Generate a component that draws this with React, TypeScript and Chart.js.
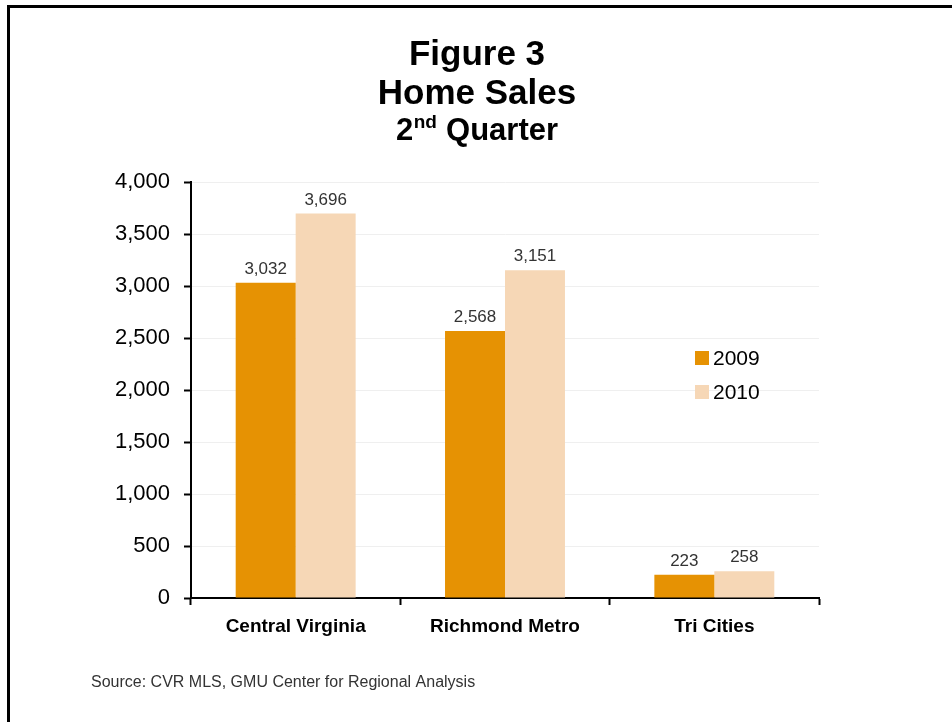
import React, { useEffect, useRef } from "react";
import { Chart, registerables } from "chart.js";

Chart.register(...registerables);

const categories = ["Central Virginia", "Richmond Metro", "Tri Cities"];
const seriesLabels = ["2009", "2010"];
const values2009 = [3032, 2568, 223];
const values2010 = [3696, 3151, 258];
const seriesColors = ["#E69203", "#F6D7B6"];
const yTickMax = 4000;
const yTickStep = 500;
const titleLines = ["Figure 3", "Home Sales"];
const subtitleParts = ["2", "nd", " Quarter"];
const sourceText = "Source: CVR MLS, GMU Center for Regional Analysis";

const FONT = "'Liberation Sans', Arial, Helvetica, sans-serif";

const fmt = (v: number) => v.toLocaleString("en-US");

const decorPlugin = {
  id: "decor",
  afterDatasetsDraw(chart: any) {
    const ctx = chart.ctx as CanvasRenderingContext2D;
    ctx.save();
    // data labels
    ctx.font = `17px ${FONT}`;
    ctx.fillStyle = "#333333";
    ctx.textAlign = "center";
    ctx.textBaseline = "alphabetic";
    chart.data.datasets.forEach((ds: any, di: number) => {
      const meta = chart.getDatasetMeta(di);
      meta.data.forEach((bar: any, i: number) => {
        ctx.fillText(fmt(ds.data[i]), bar.x, bar.y - 9);
      });
    });
    ctx.restore();
  },
  afterDraw(chart: any) {
    const ctx = chart.ctx as CanvasRenderingContext2D;
    ctx.save();
    const cx = 477;
    // title
    ctx.fillStyle = "#000";
    ctx.textAlign = "center";
    ctx.textBaseline = "alphabetic";
    ctx.font = `bold 35px ${FONT}`;
    ctx.fillText(titleLines[0], cx, 65);
    ctx.fillText(titleLines[1], cx, 104);
    // subtitle with superscript
    const bigFont = `bold 31px ${FONT}`;
    const supFont = `bold 19px ${FONT}`;
    ctx.textAlign = "left";
    ctx.font = bigFont;
    const w0 = ctx.measureText(subtitleParts[0]).width;
    const w2 = ctx.measureText(subtitleParts[2]).width;
    ctx.font = supFont;
    const w1 = ctx.measureText(subtitleParts[1]).width + 1;
    let x = cx - (w0 + w1 + w2) / 2;
    ctx.font = bigFont;
    ctx.fillText(subtitleParts[0], x, 140);
    x += w0;
    ctx.font = supFont;
    ctx.fillText(subtitleParts[1], x + 0.5, 128);
    x += w1;
    ctx.font = bigFont;
    ctx.fillText(subtitleParts[2], x, 140);

    // legend
    ctx.font = `21px ${FONT}`;
    ctx.textBaseline = "middle";
    chart.data.datasets.forEach((ds: any, i: number) => {
      const y = 358 + i * 34;
      ctx.fillStyle = ds.backgroundColor;
      ctx.fillRect(695, y - 7, 14, 14);
      ctx.fillStyle = "#000";
      ctx.fillText(ds.label, 713, y + 1);
    });

    // source
    ctx.font = `16px ${FONT}`;
    ctx.fillStyle = "#333";
    ctx.textBaseline = "middle";
    ctx.fillText(sourceText, 91, 683);
    ctx.restore();
  },
};

export default function App() {
  const ref = useRef<HTMLCanvasElement | null>(null);
  useEffect(() => {
    if (!ref.current) return;
    const chart = new Chart(ref.current, {
      type: "bar",
      data: {
        labels: categories,
        datasets: [
          {
            label: seriesLabels[0],
            data: values2009,
            backgroundColor: seriesColors[0],
            categoryPercentage: 0.573,
            barPercentage: 1.0,
          },
          {
            label: seriesLabels[1],
            data: values2010,
            backgroundColor: seriesColors[1],
            categoryPercentage: 0.573,
            barPercentage: 1.0,
          },
        ],
      },
      options: {
        responsive: false,
        animation: false,
        maintainAspectRatio: false,
        layout: { padding: { left: 0, top: 182, right: 133, bottom: 84 } },
        plugins: {
          legend: { display: false },
          title: { display: false },
          tooltip: { enabled: false },
        },
        scales: {
          x: {
            afterFit: (s: any) => {
              s.height = 40;
            },
            grid: {
              drawOnChartArea: false,
              drawTicks: true,
              tickLength: 7,
              tickColor: "#000",
              tickWidth: 2,
            },
            border: { display: true, color: "#000", width: 2 },
            ticks: {
              color: "#000",
              padding: 10,
              font: { family: FONT, size: 19, weight: "bold" },
            },
          },
          y: {
            min: 0,
            max: yTickMax,
            afterFit: (s: any) => {
              s.width = 191;
            },
            grid: {
              color: "#efefef",
              lineWidth: 1,
              drawTicks: true,
              tickLength: 7,
              tickColor: "#000",
              tickWidth: 2,
            },
            border: { display: true, color: "#000", width: 2 },
            ticks: {
              stepSize: yTickStep,
              color: "#000",
              padding: 14,
              font: { family: FONT, size: 22 },
              callback: (v: any) => fmt(Number(v)),
            },
          },
        },
      },
      plugins: [decorPlugin],
    });
    return () => chart.destroy();
  }, []);

  return (
    <div style={{ position: "absolute", left: 0, top: 0, width: 952, height: 722, background: "#fff" }}>
      <canvas ref={ref} width={952} height={722} style={{ position: "absolute", left: 0, top: 0, width: 952, height: 722 }} />
      <div
        style={{
          position: "absolute",
          left: 7,
          top: 5,
          width: 945,
          height: 717,
          borderLeft: "3px solid #000",
          borderTop: "3px solid #000",
          boxSizing: "border-box",
          pointerEvents: "none",
        }}
      />
    </div>
  );
}
